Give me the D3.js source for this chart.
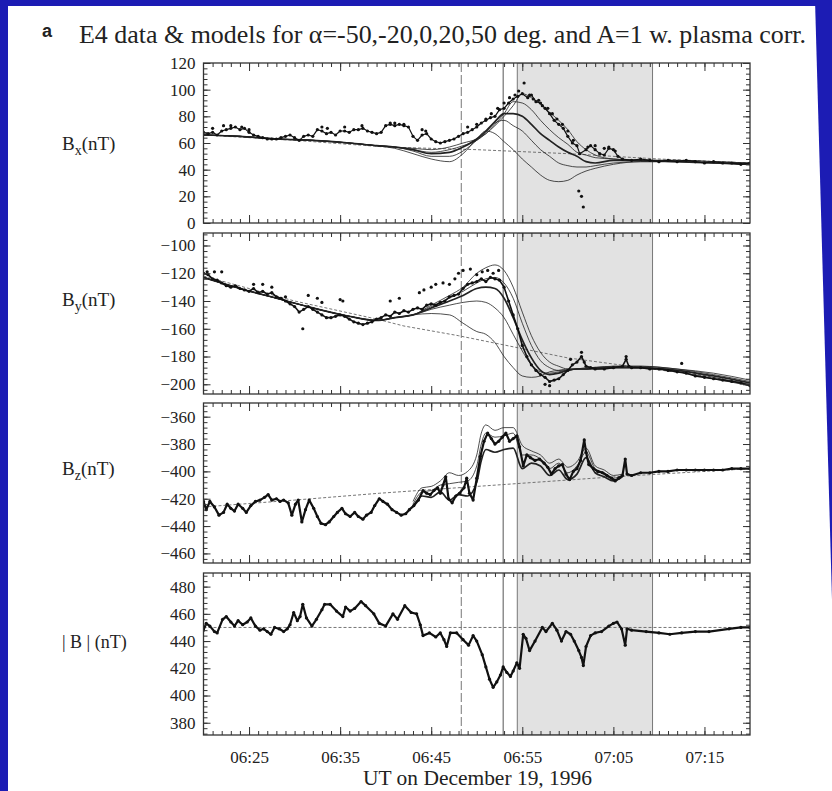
<!DOCTYPE html>
<html>
<head>
<meta charset="utf-8">
<script src="https://cdn.jsdelivr.net/npm/d3@7"></script>
<style>
body { margin: 0; background: #fff; }
svg text { font-family: "Liberation Serif", "Times New Roman", serif; fill: #222; }
svg text.sans { font-family: "Liberation Sans", Arial, sans-serif; }
</style>
</head>
<body>
<script>
// time axis: minutes after 06:20 UT
var xTickMinutes = [5, 15, 25, 35, 45, 55];
var xTickLabels = ["06:25", "06:35", "06:45", "06:55", "07:05", "07:15"];
// dashed line, solid line, shaded interval (minutes after 06:20)
var eventTimes = [28.3, 32.9, 34.45, 49.3];

// model time grid
var modelT = [0, 4, 8, 12, 16, 19, 21, 23, 25, 27, 28.5, 30, 31, 32, 33, 34, 35, 36, 37, 38, 39, 40, 41, 42, 43, 45, 48, 52, 56, 60];

// ---- Bx ----
var bxData = [[0,68],[0.5,67],[1,68],[1.5,66],[2,69],[2.5,70],[3,71],[3.5,72],[4,70],[4.5,71],[5,68],[5.5,66],[6,65],[6.5,64],[7,63],[7.5,63],[8,63],[8.5,64],[9,65],[9.5,66],[10,64],[10.5,62],[11,65],[11.5,66],[12,65],[12.5,70],[13,69],[13.5,67],[14,68],[14.5,66],[15,69],[15.5,69],[16,68],[16.5,70],[17,70],[17.5,71],[18,69],[18.5,68],[19,67],[19.5,68],[20,73],[20.5,74],[21,73],[21.5,74],[22,73],[22.5,72],[23,65],[23.5,62],[24,66],[24.5,67],[25,63],[25.5,61],[26,60],[26.5,61],[27,62],[27.5,63],[28,65],[28.5,67],[29,68],[29.5,70],[30,72],[30.5,75],[31,77],[31.5,79],[32,80],[32.5,85],[33,86],[33.5,90],[34,93],[34.5,95],[35,97],[35.6,94],[36,96],[36.5,91],[37,90],[37.5,86],[38,82],[38.5,77],[39,74],[39.5,71],[40,65],[40.5,60],[41,58],[41.3,52],[42,55],[42.5,58],[43,55],[43.5,52],[44,51],[44.5,56],[45,55],[45.5,50],[46,48],[47,47],[48,48],[49,47],[50,46],[51,47],[52,46],[53,47],[54,46],[55,45],[56,46],[57,45],[58,45],[59,44],[60,45]];
var bxDots = [[1,71],[2.2,73],[3,73],[4.2,72],[5,70],[13,72],[13.6,71],[15.5,72],[17.4,73],[20.5,75],[21,75],[22,74],[24,70],[24.4,69],[29,72],[30,74],[31,78],[31.6,82],[32.3,86],[33,90],[33.6,94],[34.2,96],[34.6,99],[35.2,105],[35.8,96],[36.2,93],[36.8,92],[37.2,88],[37.8,86],[38.3,82],[38.8,78],[39.4,74],[40,69],[40.6,62],[41.2,24],[41.5,20],[41.7,12],[42.2,57],[43,58],[44,56],[44.5,57],[45.2,54]];
var bxModels = [
  [66,65,63,62,60,58,56,52,48,46,52,63,69,67,61,55,48,42,36,32,31,32,36,39,41,44,46,46,45,44],
  [66,65,63,62,60,58,57,54,50,50,54,62,68,75,77,73,69,62,55,50,45,43,42,42,43,45,46,46,45,44],
  [66,65,63,62,60,58,57,55,52,53,57,63,69,76,82,82,80,74,67,62,57,53,50,46,45,47,47,46,45,44],
  [66,65,63,62,60,58,57,55,53,55,58,62,67,74,82,91,90,85,77,70,64,59,53,51,49,48,47,47,46,45],
  [66,65,63,62,60,58,57,56,55,57,60,63,67,73,80,88,97,94,89,83,77,70,61,55,51,48,47,47,46,45]
];
var bxBase = [[0,66],[10,62],[20,57],[30,55],[40,52],[50,48],[60,45]];

// ---- By ----
var byData = [[0,-120],[0.5,-121],[1,-124],[1.5,-125],[2,-127],[2.5,-129],[3,-130],[3.5,-129],[4,-131],[4.5,-132],[5,-133],[5.5,-131],[6,-134],[6.5,-133],[7,-135],[7.5,-134],[8,-137],[8.5,-138],[9,-140],[9.5,-142],[10,-144],[10.5,-148],[11,-146],[11.5,-144],[12,-146],[12.5,-148],[13,-150],[13.5,-152],[14,-152],[14.5,-151],[15,-150],[15.5,-151],[16,-153],[16.5,-155],[17,-156],[17.5,-157],[18,-156],[18.5,-155],[19,-153],[19.5,-152],[20,-150],[20.5,-151],[21,-148],[21.5,-149],[22,-147],[22.5,-148],[23,-146],[23.5,-145],[24,-146],[24.5,-143],[25,-142],[25.5,-143],[26,-141],[26.5,-140],[27,-137],[27.5,-136],[28,-135],[28.5,-131],[29,-128],[29.5,-127],[30,-126],[30.5,-124],[31,-126],[31.5,-123],[32,-124],[32.5,-125],[33,-130],[33.5,-140],[34,-150],[34.5,-160],[35,-172],[35.5,-180],[36,-186],[36.5,-190],[37,-193],[37.5,-195],[38,-198],[38.5,-197],[39,-196],[39.5,-193],[40,-190],[40.5,-186],[41,-184],[41.5,-180],[41.8,-184],[42,-187],[42.5,-188],[43,-189],[44,-189],[45,-188],[46,-187],[46.4,-182],[46.7,-187],[47,-188],[48,-188],[49,-189],[50,-189],[51,-190],[52,-191],[53,-192],[54,-194],[55,-195],[56,-196],[57,-197],[58,-198],[59,-199],[60,-201]];
var byDots = [[0.4,-119],[1.2,-119],[2,-119],[5.5,-128],[6.5,-128],[7.5,-130],[9,-137],[11.5,-136],[12.5,-138],[13,-141],[15,-139],[15.3,-140],[10.9,-160],[20.5,-140],[21.5,-138],[23.7,-134],[24.2,-132],[25,-130],[25.5,-128],[26.3,-127],[27,-128],[27.6,-124],[28,-120],[28.5,-118],[29.3,-117],[30,-121],[30.6,-119],[31.2,-118],[31.8,-120],[32.4,-118],[37.5,-200],[38,-201],[40.3,-182],[41.5,-177],[46.4,-180],[52.5,-185]];
var byModels = [
  [-123,-131,-138,-145,-151,-154,-152,-150,-149,-150,-156,-162,-164,-170,-180,-188,-194,-195,-194,-191,-190,-189,-189,-189,-189,-188,-188,-191,-196,-201],
  [-123,-131,-138,-145,-151,-154,-152,-150,-146,-143,-141,-140,-141,-145,-152,-164,-176,-186,-191,-192,-191,-190,-189,-189,-189,-188,-188,-190,-195,-200],
  [-123,-131,-138,-145,-151,-154,-152,-150,-145,-140,-136,-131,-130,-131,-138,-152,-168,-181,-190,-193,-192,-190,-189,-189,-188,-188,-188,-190,-194,-199],
  [-123,-131,-138,-145,-151,-154,-152,-150,-144,-138,-133,-127,-124,-123,-127,-138,-156,-172,-183,-188,-190,-190,-189,-189,-188,-187,-187,-189,-193,-198],
  [-123,-131,-138,-145,-151,-154,-152,-150,-143,-136,-130,-120,-116,-114,-118,-130,-148,-165,-177,-184,-187,-189,-189,-188,-188,-187,-187,-189,-192,-197]
];
var byBase = [[0,-122],[10,-140],[19,-153],[22,-158],[28,-165],[34,-173],[40,-181],[48,-188],[54,-193],[60,-200]];

// ---- Bz ----
var bzData = [[0,-422],[0.3,-428],[0.7,-422],[1.2,-426],[1.7,-432],[2.2,-430],[2.6,-424],[3,-427],[3.4,-429],[3.8,-424],[4.3,-427],[4.7,-430],[5.2,-425],[5.7,-422],[6.2,-421],[6.7,-419],[7.1,-417],[7.5,-421],[8,-420],[8.4,-422],[8.8,-421],[9.3,-423],[9.7,-432],[10.1,-424],[10.4,-421],[10.8,-437],[11.2,-428],[11.6,-421],[12.1,-427],[12.5,-433],[12.9,-438],[13.4,-439],[13.8,-437],[14.3,-433],[14.7,-430],[15.2,-427],[15.6,-431],[16.1,-433],[16.6,-430],[17,-433],[17.5,-435],[17.9,-432],[18.4,-430],[18.8,-425],[19.3,-420],[19.7,-422],[20.2,-424],[20.7,-428],[21.2,-430],[21.7,-432],[22.2,-431],[22.6,-428],[23.1,-425],[23.6,-421],[24.1,-414],[24.5,-416],[24.9,-417],[25.3,-414],[25.7,-412],[26,-416],[26.3,-410],[26.6,-404],[26.9,-420],[27.3,-423],[27.7,-418],[28.1,-416],[28.6,-412],[28.9,-405],[29.2,-416],[29.6,-421],[30,-405],[30.4,-389],[30.8,-378],[31.2,-372],[31.6,-376],[32,-380],[32.4,-378],[32.8,-375],[33.2,-372],[33.6,-378],[34,-376],[34.4,-374],[34.7,-382],[35.1,-396],[35.5,-388],[35.9,-390],[36.4,-392],[36.9,-391],[37.4,-394],[37.8,-397],[38.2,-402],[38.6,-398],[39,-396],[39.4,-395],[39.8,-402],[40.2,-406],[40.6,-400],[41,-398],[41.4,-392],[41.8,-377],[42,-386],[42.3,-395],[42.8,-398],[43.3,-400],[43.8,-401],[44.3,-403],[44.8,-405],[45.2,-407],[45.6,-405],[46,-403],[46.3,-391],[46.5,-402],[47,-403],[48,-401],[49,-401],[50,-400],[51,-400],[52,-399],[53,-399],[54,-399],[55,-399],[56,-399],[57,-399],[58,-398],[59,-398],[60,-398]];
var bzModelT = [23, 24, 25, 26, 27, 28, 29, 30, 30.5, 31, 32, 33, 34, 35, 36, 37, 38, 39, 40, 41, 42, 43, 44, 45, 46];
var bzModels = [
  [-422,-412,-411,-407,-401,-403,-400,-388,-372,-366,-370,-368,-368,-381,-385,-388,-394,-391,-397,-393,-383,-396,-399,-403,-402],
  [-424,-415,-414,-410,-409,-408,-407,-396,-380,-372,-375,-374,-372,-388,-388,-391,-398,-394,-401,-396,-386,-398,-401,-405,-403],
  [-426,-418,-419,-415,-421,-417,-418,-408,-392,-384,-386,-384,-383,-398,-394,-396,-403,-399,-406,-402,-390,-401,-404,-407,-404]
];
var bzBase = [[0,-426],[10,-421],[19.3,-416],[30,-411],[45,-404],[50,-402],[60,-398]];

// ---- |B| ----
var bmData = [[0,448],[0.3,453],[0.7,451],[1.2,447],[1.5,446],[2.1,456],[2.5,458],[3,454],[3.4,451],[3.8,455],[4.3,452],[4.8,454],[5.2,457],[5.7,451],[6.2,448],[6.6,449],[7,447],[7.4,445],[7.8,450],[8.3,449],[8.8,447],[9.2,449],[9.5,452],[9.9,461],[10.3,455],[10.6,458],[10.9,467],[11.3,457],[11.9,451],[12.4,456],[13,463],[13.3,467],[13.9,467],[14.6,462],[15.3,458],[15.6,465],[16.1,462],[16.6,464],[17.3,469],[17.8,466],[18.7,460],[19.3,453],[20,451],[20.8,460],[21.3,456],[22.1,466],[22.8,461],[23.4,460],[23.8,452],[24.1,444],[24.8,446],[25.5,443],[26,446],[26.4,441],[26.7,436],[27.1,446],[27.8,446],[28.5,441],[29.1,437],[29.6,444],[30,440],[30.6,430],[31,421],[31.4,412],[31.8,406],[32.2,410],[32.6,415],[32.9,421],[33.3,417],[33.7,414],[34,418],[34.4,424],[34.7,420],[35.1,445],[35.4,442],[35.8,433],[36.4,440],[37.2,450],[37.6,447],[38.3,453],[38.8,448],[39.3,440],[39.8,447],[40.3,445],[40.7,440],[41.2,433],[41.5,428],[41.7,422],[42,436],[42.5,444],[43,446],[43.7,447],[44.5,451],[45,453],[45.4,454],[45.9,449],[46.3,437],[46.5,449],[47,448],[48.6,447],[50,446],[51.2,445],[52.5,446],[54,447],[55.5,447],[57.7,449],[59,450],[60,450]];
var bmBase = [[0,450],[60,450]];

var W = 832, H = 791;
var svg = d3.select("body").append("svg").attr("width", W).attr("height", H);
svg.append("rect").attr("width", W).attr("height", H).attr("fill", "#1c1cb4");
svg.append("rect").attr("x", 8).attr("y", 6).attr("width", W - 8).attr("height", H - 6).attr("fill", "#fff");
// blue edge on the right narrows downwards (skewed scan)
svg.append("path").attr("d", "M815,0L832,0L832,600Z").attr("fill", "#1c1cb4");

var x = d3.scaleLinear().domain([0, 60]).range([203.5, 750]);

var panels = [
  {top: 63, bottom: 223, domain: [0, 120], ticks: [0, 20, 40, 60, 80, 100, 120], label: "x", data: bxData, dots: bxDots, mT: modelT, models: bxModels, base: bxBase, ly: 150, lw: 1.2},
  {top: 233, bottom: 394, domain: [-207, -91], ticks: [-200, -180, -160, -140, -120, -100], label: "y", data: byData, dots: byDots, mT: modelT, models: byModels, base: byBase, ly: 306, lw: 1.6},
  {top: 403, bottom: 563, domain: [-467, -350], ticks: [-460, -440, -420, -400, -380, -360], label: "z", data: bzData, dots: [], mT: bzModelT, models: bzModels, base: bzBase, ly: 475, lw: 2.2},
  {top: 573, bottom: 735, domain: [371, 490], ticks: [380, 400, 420, 440, 460, 480], label: "|B|", data: bmData, dots: [], mT: [], models: [], base: bmBase, ly: 648, lw: 2.2}
];

var minorX = d3.range(1, 60);

panels.forEach(function(p, i) {
  var y = d3.scaleLinear().domain(p.domain).range([p.bottom, p.top]);
  var g = svg.append("g");
  var clipId = "clip" + i;
  svg.append("clipPath").attr("id", clipId).append("rect")
    .attr("x", x(0)).attr("y", p.top).attr("width", x(60) - x(0)).attr("height", p.bottom - p.top);

  var plot = g.append("g").attr("clip-path", "url(#" + clipId + ")");
  // shaded interval and event lines
  plot.append("rect")
    .attr("x", x(eventTimes[2])).attr("y", p.top)
    .attr("width", x(eventTimes[3]) - x(eventTimes[2])).attr("height", p.bottom - p.top)
    .attr("fill", "#e2e2e2").attr("stroke", "#777").attr("stroke-width", 1);
  plot.append("line").attr("x1", x(eventTimes[0])).attr("x2", x(eventTimes[0]))
    .attr("y1", p.top).attr("y2", p.bottom)
    .attr("stroke", "#777").attr("stroke-dasharray", "9,3").attr("stroke-width", 1);
  plot.append("line").attr("x1", x(eventTimes[1])).attr("x2", x(eventTimes[1]))
    .attr("y1", p.top).attr("y2", p.bottom)
    .attr("stroke", "#555").attr("stroke-width", 1);

  var line = d3.line().x(function(d) { return x(d[0]); }).y(function(d) { return y(d[1]); });
  var smooth = d3.line().curve(d3.curveMonotoneX)
    .x(function(d) { return x(d[0]); }).y(function(d) { return y(d[1]); });

  // baseline (no-boundary) model, dashed
  plot.append("path").datum(p.base).attr("d", line)
    .attr("fill", "none").attr("stroke", "#666").attr("stroke-width", 0.9).attr("stroke-dasharray", "3,2");

  // models
  p.models.forEach(function(m, k) {
    var pts = p.mT.map(function(t, j) { return [t, m[j]]; });
    plot.append("path").datum(pts).attr("d", smooth)
      .attr("fill", "none").attr("stroke", "#222")
      .attr("stroke-width", k === 2 ? 1.7 : 0.8);
  });

  // data
  plot.append("path").datum(p.data).attr("d", line)
    .attr("fill", "none").attr("stroke", "#111").attr("stroke-width", p.lw)
    .attr("stroke-linejoin", "round");
  plot.selectAll("circle.d").data(p.data.concat(p.dots)).enter().append("circle")
    .attr("cx", function(d) { return x(d[0]); })
    .attr("cy", function(d) { return y(d[1]); })
    .attr("r", 1.6).attr("fill", "#111");

  // frame
  g.append("rect").attr("x", x(0)).attr("y", p.top)
    .attr("width", x(60) - x(0)).attr("height", p.bottom - p.top)
    .attr("fill", "none").attr("stroke", "#333").attr("stroke-width", 1.3);

  // axes
  var minorY = d3.range(Math.ceil(p.domain[0] / 4) * 4, p.domain[1] + 0.01, 4);
  function style(a) {
    a.attr("font-family", null);
    a.select(".domain").remove();
    a.selectAll("line").attr("stroke", "#333");
    a.selectAll("text").attr("fill", "#333");
  }
  g.append("g").attr("transform", "translate(" + x(0) + ",0)")
    .call(d3.axisLeft(y).tickValues(minorY).tickSize(-4).tickFormat("")).call(style);
  g.append("g").attr("transform", "translate(" + x(0) + ",0)")
    .call(d3.axisLeft(y).tickValues(p.ticks).tickSize(-7).tickPadding(8)).call(style)
    .attr("font-size", 17);
  g.append("g").attr("transform", "translate(" + x(60) + ",0)")
    .call(d3.axisRight(y).tickValues(minorY).tickSize(-4).tickFormat("")).call(style);
  g.append("g").attr("transform", "translate(" + x(60) + ",0)")
    .call(d3.axisRight(y).tickValues(p.ticks).tickSize(-7).tickFormat("")).call(style);

  g.append("g").attr("transform", "translate(0," + p.top + ")")
    .call(d3.axisTop(x).tickValues(minorX).tickSize(-4).tickFormat("")).call(style);
  g.append("g").attr("transform", "translate(0," + p.top + ")")
    .call(d3.axisTop(x).tickValues(xTickMinutes).tickSize(-8).tickFormat("")).call(style);
  g.append("g").attr("transform", "translate(0," + p.bottom + ")")
    .call(d3.axisBottom(x).tickValues(minorX).tickSize(-4).tickFormat("")).call(style);
  if (i === 3) {
    g.append("g").attr("transform", "translate(0," + p.bottom + ")")
      .call(d3.axisBottom(x).tickValues(xTickMinutes).tickSize(-8).tickPadding(16)
        .tickFormat(function(d, j) { return xTickLabels[j]; }))
      .call(style).attr("font-size", 17);
  } else {
    g.append("g").attr("transform", "translate(0," + p.bottom + ")")
      .call(d3.axisBottom(x).tickValues(xTickMinutes).tickSize(-8).tickFormat("")).call(style);
  }

  // y label
  var lab = svg.append("text").attr("x", 62).attr("y", p.ly).attr("font-size", 19);
  if (p.label === "|B|") {
    lab.attr("font-size", 18).text("| B | (nT)");
  } else {
    lab.append("tspan").text("B");
    lab.append("tspan").attr("dy", 5).attr("font-size", 14).text(p.label);
    lab.append("tspan").attr("dy", -5).text("(nT)");
  }
});

// title
svg.append("text").attr("class", "sans").attr("x", 42).attr("y", 37)
  .attr("font-weight", "bold").attr("font-size", 18)
  .text("a");
svg.append("text").attr("x", 79).attr("y", 43).attr("font-size", 25)
  .attr("textLength", 727).attr("lengthAdjust", "spacingAndGlyphs")
  .text("E4 data & models for α=-50,-20,0,20,50 deg. and A=1 w. plasma corr.");

// x axis title
svg.append("text").attr("x", 363).attr("y", 785).attr("font-size", 20)
  .attr("textLength", 229).attr("lengthAdjust", "spacingAndGlyphs")
  .text("UT on December 19, 1996");
</script>
</body>
</html>
